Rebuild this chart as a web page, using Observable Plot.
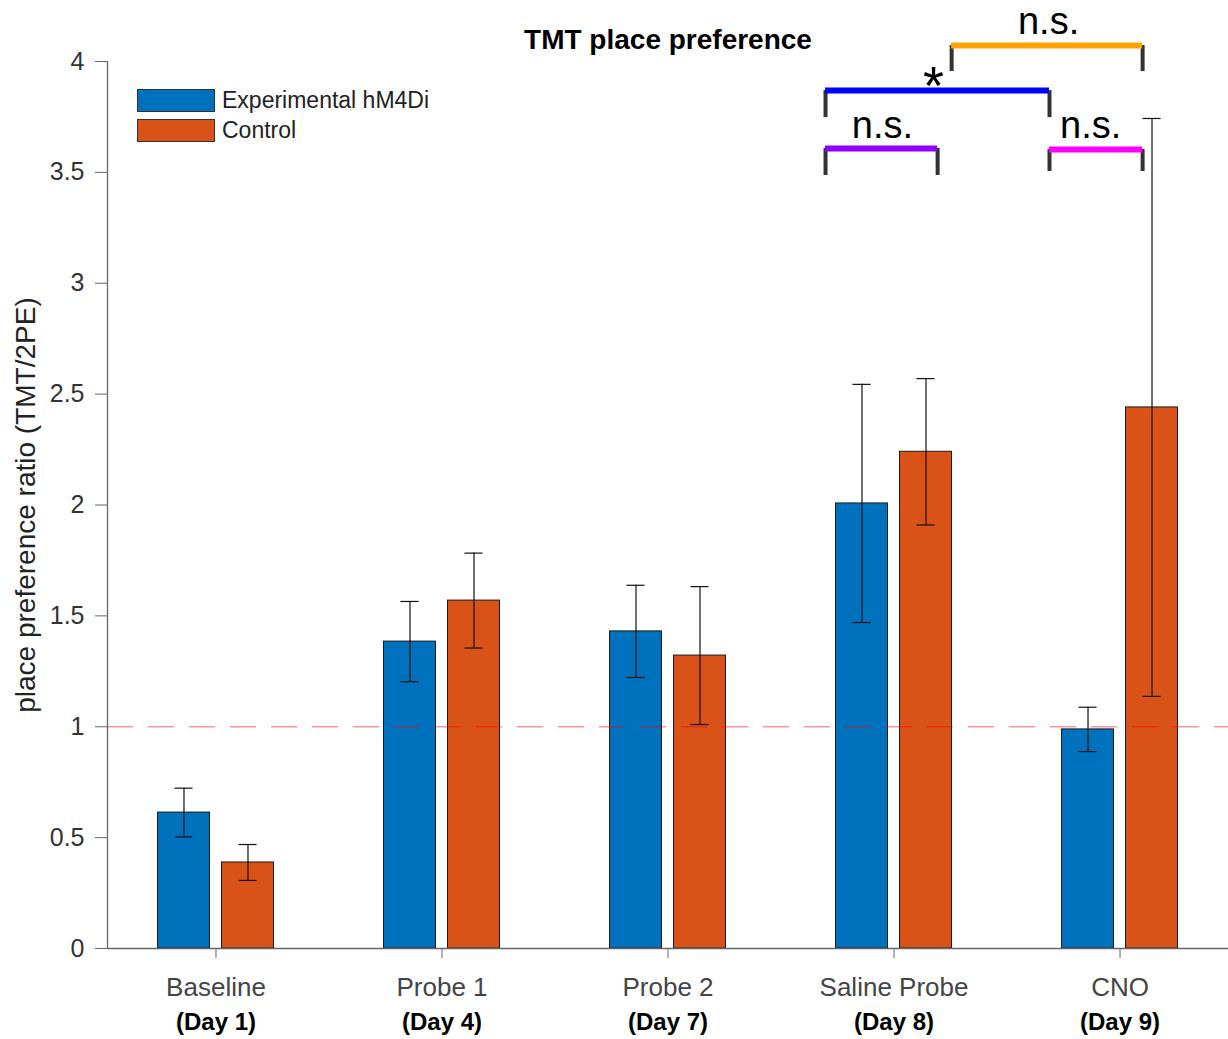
<!DOCTYPE html>
<html>
<head>
<meta charset="utf-8">
<script src="https://cdn.jsdelivr.net/npm/d3@7"></script>
<script src="https://cdn.jsdelivr.net/npm/@observablehq/plot@0.6"></script>
<style>
  html, body { margin: 0; padding: 0; background: #fff; }
  #wrap { position: relative; width: 1228px; height: 1039px; overflow: hidden; font-family: "Liberation Sans", Arial, Helvetica, sans-serif; }
  #legend { position: absolute; left: 137px; top: 85px; }
  .li { display: flex; align-items: center; height: 30px; }
  .sw { width: 76px; height: 21px; border: 1px solid #333; box-sizing: content-box; }
  .lt { margin-left: 7px; font-size: 23px; color: #222; }
</style>
</head>
<body>
<div id="wrap"></div>
<script>
// ---------- data ----------
const categories = ["Baseline", "Probe 1", "Probe 2", "Saline Probe", "CNO"];
const days = ["(Day 1)", "(Day 4)", "(Day 7)", "(Day 8)", "(Day 9)"];
const seriesNames = ["Experimental hM4Di", "Control"];
const experimental = [0.613, 1.384, 1.430, 2.007, 0.988];
const experimentalErr = [0.110, 0.181, 0.208, 0.537, 0.100];
const control = [0.388, 1.569, 1.321, 2.240, 2.440];
const controlErr = [0.081, 0.214, 0.311, 0.330, 1.303];
const yTicks = [0, 0.5, 1, 1.5, 2, 2.5, 3, 3.5, 4];
const refLine = [1];

// significance brackets (x in category units, y in data units)
const bracketLabel = ["n.s.", "n.s.", "*", "n.s."];
const bracketX1 = [3.697, 4.688, 3.697, 4.255];
const bracketX2 = [4.193, 5.100, 4.688, 5.100];
const bracketY = [3.608, 3.603, 3.869, 4.072];
const bracketTickBottom = [3.486, 3.504, 3.747, 3.955];
const bracketLabelX = [3.949, 4.870, 4.175, 4.684];
const bracketLabelY = [3.653, 3.653, 3.810, 4.126];
const bracketColor = ["#9100ff", "#ff00ff", "#0000ff", "#ffa300"];

// ---------- build ----------
const colors = ["#0072BD", "#D95319"];
const offset = 0.1416, halfW = 0.115, capW = 0.04;
const bars = [];
categories.forEach((c, i) => {
  bars.push({pos: i + 1 - offset, v: experimental[i], e: experimentalErr[i], s: 0});
  bars.push({pos: i + 1 + offset, v: control[i], e: controlErr[i], s: 1});
});
const brackets = bracketLabel.map((l, i) => ({
  label: l, x1: bracketX1[i], x2: bracketX2[i], y: bracketY[i], yb: bracketTickBottom[i],
  lx: bracketLabelX[i], ly: bracketLabelY[i], color: bracketColor[i]
}));
const bracketTicks = brackets.flatMap(b => [{x: b.x1, y1: b.yb, y2: b.y}, {x: b.x2, y1: b.yb, y2: b.y}]);
const catIdx = categories.map((c, i) => i + 1);
const xDomain = [0.52, 5.48];

const chart = Plot.plot({
  width: 1228,
  height: 1039,
  marginLeft: 107,
  marginRight: 0,
  marginTop: 61,
  marginBottom: 91,
  style: {fontFamily: '"Liberation Sans", Arial, Helvetica, sans-serif', background: "white", overflow: "visible"},
  x: {type: "linear", domain: xDomain, axis: null},
  y: {domain: [0, 4], axis: null},
  marks: [
    Plot.rect(bars, {x1: d => d.pos - halfW, x2: d => d.pos + halfW, y1: 0, y2: d => d.v,
      fill: d => colors[d.s], stroke: "#1a1a1a", strokeWidth: 1}),
    Plot.ruleX(bars, {x: "pos", y1: d => d.v - d.e, y2: d => d.v + d.e, stroke: "#111", strokeWidth: 1.2}),
    Plot.ruleY(bars, {x1: d => d.pos - capW, x2: d => d.pos + capW, y: d => d.v + d.e, stroke: "#111", strokeWidth: 1.2}),
    Plot.ruleY(bars, {x1: d => d.pos - capW, x2: d => d.pos + capW, y: d => d.v - d.e, stroke: "#111", strokeWidth: 1.2}),
    Plot.ruleY(refLine, {stroke: "red", strokeOpacity: 0.42, strokeWidth: 1.6, strokeDasharray: "26,15"}),
    // axes
    Plot.ruleX([xDomain[0]], {stroke: "#666", strokeWidth: 1.3}),
    Plot.ruleY([0], {stroke: "#666", strokeWidth: 1.3}),
    Plot.axisY({ticks: yTicks, tickSize: 12, tickPadding: 11, fontSize: 25, color: "#333", stroke: "#666", label: null, tickFormat: d => String(d)}),
    Plot.axisX({ticks: catIdx, tickSize: 10, stroke: "#666", tickFormat: () => "", label: null}),
    Plot.text(categories, {x: (d, i) => i + 1, frameAnchor: "bottom", lineAnchor: "middle", dy: 39, fontSize: 26, fill: "#444"}),
    Plot.text(days, {x: (d, i) => i + 1, frameAnchor: "bottom", lineAnchor: "middle", dy: 74, fontSize: 24, fontWeight: "bold", fill: "#000"}),
    Plot.text(["place preference ratio (TMT/2PE)"], {frameAnchor: "left", textAnchor: "middle", lineAnchor: "middle", dx: -81, rotate: -90, fontSize: 28, fill: "#222"}),
    Plot.text(["TMT place preference"], {frameAnchor: "top", lineAnchor: "middle", dy: -21, fontSize: 28, fontWeight: "bold", fill: "#000"}),
    // brackets
    Plot.ruleX(bracketTicks, {x: "x", y1: "y1", y2: "y2", stroke: "#333", strokeWidth: 4}),
    Plot.ruleY(brackets, {x1: "x1", x2: "x2", y: "y", stroke: "color", strokeWidth: 6}),
    Plot.text(brackets, {x: "lx", y: "ly", text: "label", lineAnchor: "bottom",
      fontSize: d => d.label === "*" ? 54 : 38, fill: "#000",
      fontWeight: d => d.label === "*" ? "bold" : "normal"})
  ]
});
const wrap = document.getElementById("wrap");
wrap.appendChild(chart);

const legend = document.createElement("div");
legend.id = "legend";
seriesNames.forEach((n, i) => {
  const row = document.createElement("div");
  row.className = "li";
  const sw = document.createElement("div");
  sw.className = "sw";
  sw.style.background = colors[i];
  const t = document.createElement("span");
  t.className = "lt";
  t.textContent = n;
  row.appendChild(sw); row.appendChild(t);
  legend.appendChild(row);
});
wrap.appendChild(legend);
</script>
</body>
</html>
